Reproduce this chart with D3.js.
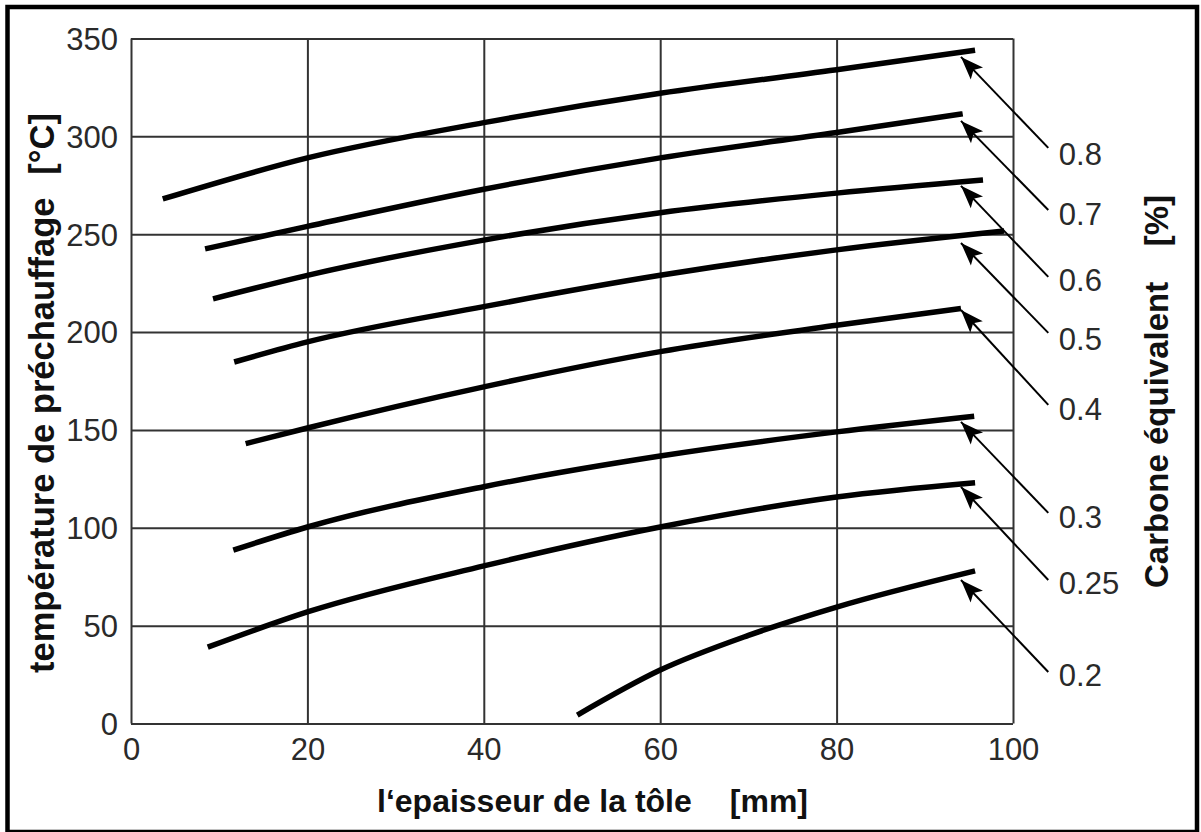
<!DOCTYPE html>
<html>
<head>
<meta charset="utf-8">
<script src="https://cdn.jsdelivr.net/npm/d3@7"></script>
<style>
  html, body { margin: 0; padding: 0; background: #fff; }
  svg { display: block; }
  text { font-family: "Liberation Sans", Arial, Helvetica, sans-serif; }
</style>
</head>
<body>
<svg id="chart" width="1201" height="832"></svg>
<script>
// ---- data ----
const xTicks = [0, 20, 40, 60, 80, 100];
const yTicks = [0, 50, 100, 150, 200, 250, 300, 350];
const ceLabels = ["0.8", "0.7", "0.6", "0.5", "0.4", "0.3", "0.25", "0.2"];
// plate thickness (mm) sample points per curve
const thickness = [
  [3.6, 20, 40, 60, 80, 95.7],
  [8.4, 20, 40, 60, 80, 94.3],
  [9.3, 20, 40, 60, 80, 96.6],
  [11.7, 20, 40, 60, 80, 99.0],
  [13.0, 20, 40, 60, 80, 94.1],
  [11.6, 20, 40, 60, 80, 95.6],
  [8.7, 20, 40, 60, 80, 95.7],
  [50.6, 60, 70, 80, 95.7]
];
// preheat temperature (°C) at those points
const preheat = [
  [268, 289, 307, 322, 334, 344],
  [242.5, 254, 273, 289, 302, 311.5],
  [217, 229, 247, 261, 271, 277.7],
  [184.7, 195, 213, 229, 242, 251.6],
  [143, 151, 172, 190, 203.5, 212],
  [88.6, 100.4, 121, 136.7, 149, 157],
  [39, 57, 80.5, 100.4, 115.7, 123],
  [4.3, 27.3, 45, 59.5, 78]
];
// annotation arrows (data units): tip, tail and label level
const arrowTipX = 94.1;
const arrowTailX = 104.0;
const labelX = 105.2;
const arrowTipY = [340.6, 307.9, 274.7, 245.5, 211.3, 154.1, 120.9, 73.3];
const arrowTailY = [294.1, 262.4, 228.2, 199.6, 162.8, 107.6, 73.3, 26.3];
const labelY = [291.3, 260.6, 226.6, 196.5, 160.7, 105.5, 71.8, 24.8];

// ---- layout ----
const svg = d3.select("#chart");
const mLeft = 131, mRight = 1013, mTop = 38.5, mBottom = 723.5;
const x = d3.scaleLinear().domain([0, 100]).range([mLeft, mRight]);
const y = d3.scaleLinear().domain([0, 350]).range([mBottom, mTop]);

svg.append("rect").attr("x", 0).attr("y", 0).attr("width", 1201).attr("height", 832).attr("fill", "#fff");
// outer frame
svg.append("rect")
  .attr("x", 7.5).attr("y", 7).attr("width", 1189.5).attr("height", 825)
  .attr("fill", "none").attr("stroke", "#000").attr("stroke-width", 4.5);

const gridColor = "#333";
const tickFont = "31px";

// y axis with grid
const gy = svg.append("g").attr("transform", `translate(${mLeft},0)`)
  .call(d3.axisLeft(y).tickValues(yTicks).tickSize(-(mRight - mLeft)).tickPadding(13).tickFormat(d3.format("d")));
gy.select(".domain").remove();
gy.selectAll(".tick line").attr("stroke", gridColor).attr("stroke-width", 2);
gy.selectAll(".tick text").attr("fill", "#2a2a2a").style("font-size", tickFont).attr("dy", "0.35em");

// x axis with grid
const gx = svg.append("g").attr("transform", `translate(0,${mBottom})`)
  .call(d3.axisBottom(x).tickValues(xTicks).tickSize(-(mBottom - mTop)).tickPadding(14).tickFormat(d3.format("d")));
gx.select(".domain").remove();
gx.selectAll(".tick line").attr("stroke", gridColor).attr("stroke-width", 2);
gx.selectAll(".tick text").attr("fill", "#2a2a2a").style("font-size", tickFont).attr("dy", "0.71em");

// curves
const line = d3.line().x(d => x(d[0])).y(d => y(d[1])).curve(d3.curveMonotoneX);
thickness.forEach((xs, i) => {
  const pts = xs.map((v, j) => [v, preheat[i][j]]);
  svg.append("path").attr("d", line(pts))
    .attr("fill", "none").attr("stroke", "#000").attr("stroke-width", 5.5)
    .attr("stroke-linecap", "butt");
});

// arrow marker
svg.append("defs").append("marker")
  .attr("id", "arrow").attr("markerUnits", "userSpaceOnUse")
  .attr("viewBox", "-26 -10 28 20").attr("refX", 0).attr("refY", 0)
  .attr("markerWidth", 28).attr("markerHeight", 20).attr("orient", "auto")
  .append("path").attr("d", "M0,0 L-23,-8.5 L-18,0 L-23,8.5 Z").attr("fill", "#000");

ceLabels.forEach((lab, i) => {
  const x1 = x(arrowTailX), y1 = y(arrowTailY[i]);
  const x2 = x(arrowTipX), y2 = y(arrowTipY[i]);
  svg.append("line").attr("x1", x1).attr("y1", y1).attr("x2", x2).attr("y2", y2)
    .attr("stroke", "#000").attr("stroke-width", 2).attr("marker-end", "url(#arrow)");
  svg.append("text").attr("x", x(labelX)).attr("y", y(labelY[i])).attr("dy", "0.36em")
    .attr("fill", "#2a2a2a").style("font-size", tickFont).text(lab);
});

// axis titles
const titleSize = "32px";
svg.append("text").attr("x", 377).attr("y", 812).attr("fill", "#111")
  .style("font-size", titleSize).style("font-weight", "bold").text("l‘epaisseur de la tôle");
svg.append("text").attr("x", 808).attr("y", 812).attr("text-anchor", "end").attr("fill", "#111")
  .style("font-size", titleSize).style("font-weight", "bold").text("[mm]");

const leftSize = "34.5px";
const lt = svg.append("g").attr("transform", "translate(54,0)");
lt.append("text").attr("transform", "translate(0,673) rotate(-90)").attr("fill", "#111")
  .style("font-size", leftSize).style("font-weight", "bold").text("température de préchauffage");
lt.append("text").attr("transform", "translate(0,113) rotate(-90)").attr("text-anchor", "end").attr("fill", "#111")
  .style("font-size", leftSize).style("font-weight", "bold").text("[°C]");

const rightSize = "33px";
const rt = svg.append("g").attr("transform", "translate(1168,0)");
rt.append("text").attr("transform", "translate(0,588) rotate(-90)").attr("fill", "#111")
  .style("font-size", rightSize).style("font-weight", "bold").text("Carbone équivalent");
rt.append("text").attr("transform", "translate(0,195) rotate(-90)").attr("text-anchor", "end").attr("fill", "#111")
  .style("font-size", rightSize).style("font-weight", "bold").text("[%]");
</script>
</body>
</html>
